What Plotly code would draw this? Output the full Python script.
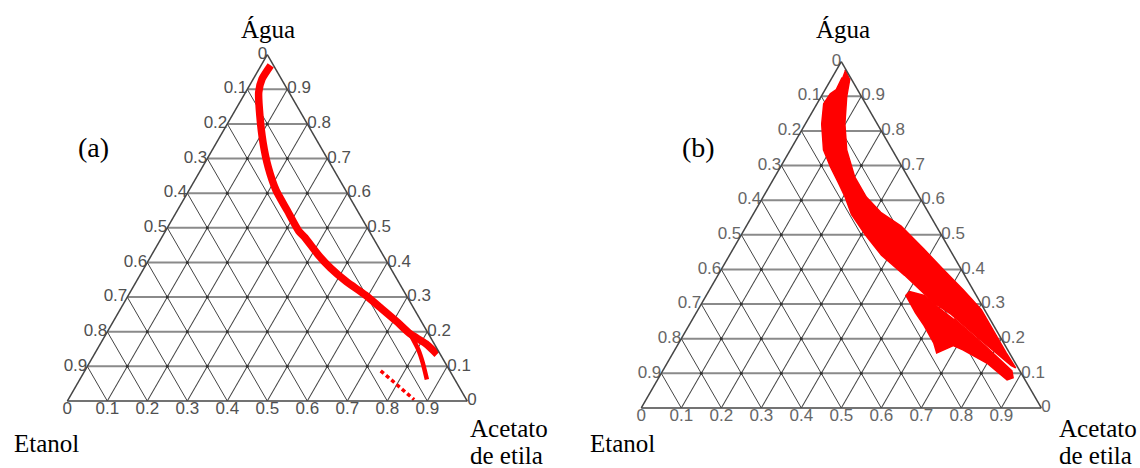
import plotly.graph_objects as go

# ---- axis ticks (shared by both ternary diagrams) ----
TICKS = [0.0, 0.1, 0.2, 0.3, 0.4, 0.5, 0.6, 0.7, 0.8, 0.9]
TICK_TEXT = ["0", "0.1", "0.2", "0.3", "0.4", "0.5", "0.6", "0.7", "0.8", "0.9"]

# a = Água (top), b = Etanol (bottom left), c = Acetato de etila (bottom right)

# ---- (a) binodal curve ----
curve_a_agua = [0.969, 0.930, 0.891, 0.823, 0.745, 0.676, 0.608, 0.550, 0.491, 0.472,
                0.423, 0.384, 0.345, 0.306, 0.267, 0.228, 0.194, 0.165, 0.135]
curve_a_etanol = [0.007, 0.048, 0.076, 0.107, 0.138, 0.160, 0.174, 0.175, 0.176, 0.170,
                  0.162, 0.150, 0.130, 0.102, 0.081, 0.061, 0.046, 0.021, 0.008]
curve_a_acetato = [0.024, 0.022, 0.033, 0.070, 0.117, 0.164, 0.218, 0.275, 0.333, 0.358,
                   0.415, 0.466, 0.525, 0.592, 0.652, 0.711, 0.760, 0.814, 0.857]

branch_a_agua = [0.194, 0.150, 0.111, 0.062]
branch_a_etanol = [0.046, 0.048, 0.056, 0.070]
branch_a_acetato = [0.760, 0.802, 0.833, 0.868]

dotted_a_agua = [0.087, 0.062, 0.004]
dotted_a_etanol = [0.173, 0.160, 0.131]
dotted_a_acetato = [0.740, 0.778, 0.865]

# ---- (b) envelope of the simulated curves ----
band_b_agua = [0.977, 0.948, 0.899, 0.820, 0.745, 0.667, 0.609, 0.565, 0.525, 0.458,
               0.400, 0.342, 0.284, 0.217, 0.160, 0.116,
               0.122, 0.197, 0.270, 0.304, 0.383, 0.441, 0.499, 0.559, 0.609,
               0.652, 0.696, 0.745, 0.820, 0.878, 0.907, 0.919, 0.954]
band_b_etanol = [0.002, 0.005, 0.037, 0.081, 0.114, 0.133, 0.133, 0.119, 0.088, 0.064,
                 0.045, 0.025, 0.008, 0.008, 0.008, 0.006,
                 0.014, 0.054, 0.090, 0.117, 0.150, 0.179, 0.190, 0.195, 0.186,
                 0.182, 0.179, 0.172, 0.139, 0.105, 0.074, 0.053, 0.021]
band_b_acetato = [0.021, 0.047, 0.064, 0.099, 0.141, 0.200, 0.258, 0.316, 0.387, 0.478,
                  0.555, 0.633, 0.708, 0.775, 0.832, 0.878,
                  0.864, 0.749, 0.640, 0.579, 0.467, 0.380, 0.311, 0.246, 0.205,
                  0.166, 0.125, 0.083, 0.041, 0.017, 0.019, 0.028, 0.025]

lobe_b_agua = [0.258, 0.180, 0.107, 0.087, 0.081, 0.128, 0.168, 0.180, 0.159, 0.188,
               0.238, 0.275, 0.325, 0.336, 0.325, 0.296]
lobe_b_etanol = [0.089, 0.051, 0.020, 0.027, 0.045, 0.070, 0.112, 0.130, 0.182, 0.175,
                 0.174, 0.177, 0.176, 0.161, 0.130, 0.113]
lobe_b_acetato = [0.653, 0.769, 0.873, 0.886, 0.874, 0.802, 0.720, 0.690, 0.659, 0.637,
                  0.588, 0.548, 0.499, 0.503, 0.545, 0.591]

RED = "#ff0000"
TICK_FONT = "Liberation Sans Narrow, Arial Narrow, Liberation Sans, Arial, sans-serif"
SERIF = "Liberation Serif, Times New Roman, serif"

fig = go.Figure()


def add_frame(subplot, label_color):
    """Grid-node dots and the three sets of edge labels of one diagram."""
    node_a, node_b, node_c = [], [], []
    for av in TICKS[1:]:
        for bv in TICKS[1:]:
            if av + bv < 1 - 1e-9:
                node_a.append(av)
                node_b.append(bv)
                node_c.append(1 - av - bv)
    fig.add_trace(go.Scatterternary(
        a=node_a, b=node_b, c=node_c, mode="markers",
        marker=dict(size=3, color="#333333"),
        hoverinfo="skip", showlegend=False, subplot=subplot))

    font = dict(family=TICK_FONT, size=17, color=label_color)
    # Etanol fraction along the left edge
    fig.add_trace(go.Scatterternary(
        a=[1 - v for v in TICKS], b=TICKS, c=[0.0] * len(TICKS),
        mode="text", text=TICK_TEXT, textposition="middle left", textfont=font,
        cliponaxis=False, hoverinfo="skip", showlegend=False, subplot=subplot))
    # Água fraction along the right edge
    fig.add_trace(go.Scatterternary(
        a=TICKS, b=[0.0] * len(TICKS), c=[1 - v for v in TICKS],
        mode="text", text=TICK_TEXT, textposition="middle right", textfont=font,
        cliponaxis=False, hoverinfo="skip", showlegend=False, subplot=subplot))
    # Acetato de etila fraction along the base
    fig.add_trace(go.Scatterternary(
        a=[0.0] * len(TICKS), b=[1 - v for v in TICKS], c=TICKS,
        mode="text", text=TICK_TEXT, textposition="bottom center", textfont=font,
        cliponaxis=False, hoverinfo="skip", showlegend=False, subplot=subplot))


add_frame("ternary", "#505050")
add_frame("ternary2", "#666666")

# (a) curves
fig.add_trace(go.Scatterternary(
    a=curve_a_agua, b=curve_a_etanol, c=curve_a_acetato, mode="lines",
    line=dict(color=RED, width=7.5, shape="spline", smoothing=0.6),
    hoverinfo="skip", showlegend=False, subplot="ternary"))
fig.add_trace(go.Scatterternary(
    a=branch_a_agua, b=branch_a_etanol, c=branch_a_acetato, mode="lines",
    line=dict(color=RED, width=4.5, shape="spline", smoothing=0.6),
    hoverinfo="skip", showlegend=False, subplot="ternary"))
fig.add_trace(go.Scatterternary(
    a=dotted_a_agua, b=dotted_a_etanol, c=dotted_a_acetato, mode="lines",
    line=dict(color=RED, width=3.5, dash="4px,3px"),
    hoverinfo="skip", showlegend=False, subplot="ternary"))

# (b) envelopes
for aa, bb, cc in [(band_b_agua, band_b_etanol, band_b_acetato),
                   (lobe_b_agua, lobe_b_etanol, lobe_b_acetato)]:
    fig.add_trace(go.Scatterternary(
        a=aa, b=bb, c=cc, mode="lines", fill="toself", fillcolor=RED,
        line=dict(color=RED, width=1.5),
        hoverinfo="skip", showlegend=False, subplot="ternary2"))


def ternary_layout(xdom, ydom):
    common = dict(min=0, tick0=0, dtick=0.1, showticklabels=False, ticks="",
                  showgrid=True, showline=True, linecolor="#444444", linewidth=1.5,
                  title=dict(text=""))
    return dict(
        domain=dict(x=xdom, y=ydom), sum=1, bgcolor="white",
        aaxis=dict(common, gridcolor="#8a8a8a", gridwidth=2),
        baxis=dict(common, gridcolor="#444444", gridwidth=1.1),
        caxis=dict(common, gridcolor="#444444", gridwidth=1.1),
    )


def label(text, x, y, size=25, xanchor="center"):
    return dict(text=text, x=x, y=y, xref="paper", yref="paper", showarrow=False,
                xanchor=xanchor, yanchor="middle",
                font=dict(family=SERIF, size=size, color="black"))


fig.update_layout(
    width=1140, height=468,
    margin=dict(l=0, r=0, t=0, b=0),
    paper_bgcolor="white", plot_bgcolor="white",
    showlegend=False,
    ternary=ternary_layout([0.05904, 0.40991], [0.14316, 0.88333]),
    ternary2=ternary_layout([0.56254, 0.91342], [0.12821, 0.86838]),
    annotations=[
        label("Água", 0.2355, 0.938),
        label("Água", 0.7395, 0.938),
        label("(a)", 0.0816, 0.684, size=28),
        label("(b)", 0.6123, 0.684, size=28),
        label("Etanol", 0.0410, 0.0513),
        label("Etanol", 0.5462, 0.0534),
        label("Acetato", 0.4105, 0.085, xanchor="left"),
        label("de etila", 0.4105, 0.027, xanchor="left"),
        label("Acetato", 0.9269, 0.085, xanchor="left"),
        label("de etila", 0.9269, 0.027, xanchor="left"),
    ],
)

fig.write_html("out.html")
